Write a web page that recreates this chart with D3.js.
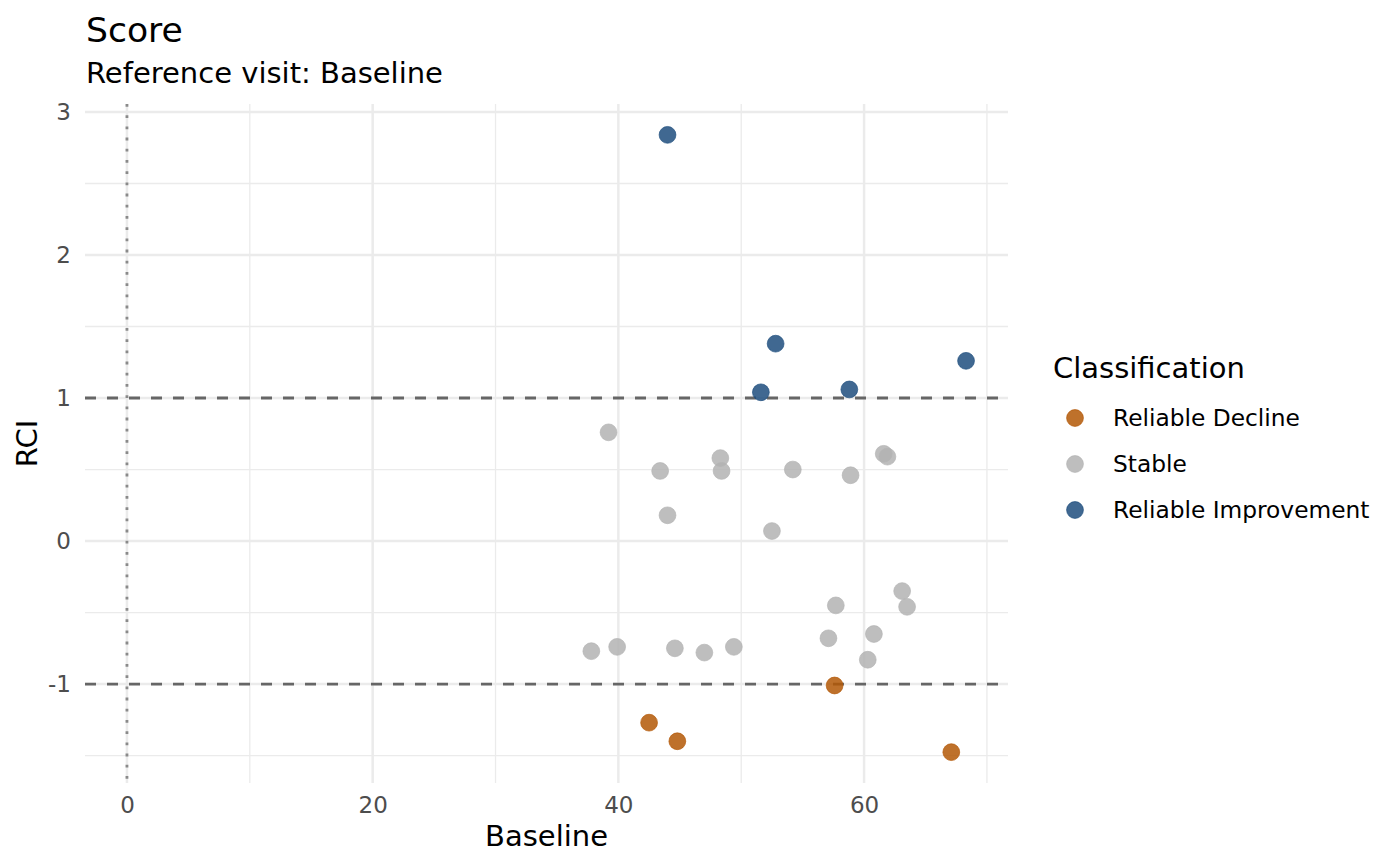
<!DOCTYPE html>
<html>
<head>
<meta charset="utf-8">
<script src="https://cdn.jsdelivr.net/npm/d3@7"></script>
<style>
  body { margin: 0; background: #fff; }
  svg text { font-family: "DejaVu Sans", sans-serif; }
</style>
</head>
<body>
<svg id="chart" width="1400" height="866"></svg>
<script>
// Data
const classes = ["Reliable Decline", "Stable", "Reliable Improvement"];
const classColors = ["#B35806", "#B3B3B3", "#1F4E7E"];

const baseline = [
  44.0, 52.8, 51.6, 58.8, 68.3,
  39.2, 43.4, 48.3, 48.4, 44.0, 52.5, 54.2, 58.9, 61.6, 61.9,
  37.8, 39.9, 44.6, 47.0, 49.4, 57.7, 57.1, 60.8, 60.3, 63.1, 63.5,
  42.5, 44.8, 57.6, 67.1
];
const rci = [
  2.84, 1.38, 1.04, 1.06, 1.26,
  0.76, 0.49, 0.58, 0.49, 0.18, 0.07, 0.50, 0.46, 0.61, 0.59,
  -0.77, -0.74, -0.75, -0.78, -0.74, -0.45, -0.68, -0.65, -0.83, -0.35, -0.46,
  -1.27, -1.40, -1.01, -1.476
];
const classification = [
  2, 2, 2, 2, 2,
  1, 1, 1, 1, 1, 1, 1, 1, 1, 1,
  1, 1, 1, 1, 1, 1, 1, 1, 1, 1, 1,
  0, 0, 0, 0
];

const xTicks = [0, 20, 40, 60];
const xMinor = [10, 30, 50, 70];
const yTicks = [-1, 0, 1, 2, 3];
const yMinor = [-1.5, -0.5, 0.5, 1.5, 2.5];
const hRefs = [-1, 1];
const vRef = 0;

const points = baseline.map((b, i) => ({x: b, y: rci[i], c: classification[i]}));

const svg = d3.select("#chart");
const panel = {left: 85, right: 1008, top: 104, bottom: 783};

// ggplot-like 5% expansion, reference lines train the scales too
function expand(vals) {
  let e = d3.extent(vals);
  let pad = (e[1] - e[0]) * 0.05;
  return [e[0] - pad, e[1] + pad];
}

let x = d3.scaleLinear()
  .domain(expand(baseline.concat([vRef])))
  .range([panel.left, panel.right]);
let y = d3.scaleLinear()
  .domain(expand(rci.concat(hRefs)))
  .range([panel.bottom, panel.top]);

let grid = svg.append("g");
grid.selectAll(".xminor").data(xMinor).enter().append("line")
  .attr("x1", d => x(d)).attr("x2", d => x(d))
  .attr("y1", panel.top).attr("y2", panel.bottom)
  .attr("stroke", "#EBEBEB").attr("stroke-width", 1.3);
grid.selectAll(".yminor").data(yMinor).enter().append("line")
  .attr("x1", panel.left).attr("x2", panel.right)
  .attr("y1", d => y(d)).attr("y2", d => y(d))
  .attr("stroke", "#EBEBEB").attr("stroke-width", 1.3);
grid.selectAll(".xmajor").data(xTicks).enter().append("line")
  .attr("x1", d => x(d)).attr("x2", d => x(d))
  .attr("y1", panel.top).attr("y2", panel.bottom)
  .attr("stroke", "#EBEBEB").attr("stroke-width", 2.5);
grid.selectAll(".ymajor").data(yTicks).enter().append("line")
  .attr("x1", panel.left).attr("x2", panel.right)
  .attr("y1", d => y(d)).attr("y2", d => y(d))
  .attr("stroke", "#EBEBEB").attr("stroke-width", 2.5);

// reference lines
svg.append("line")
  .attr("x1", x(vRef)).attr("x2", x(vRef))
  .attr("y1", panel.top).attr("y2", panel.bottom)
  .attr("stroke", "#8A8A8A").attr("stroke-width", 2.8)
  .attr("stroke-dasharray", "2.8,8.4");
svg.selectAll(".href").data(hRefs).enter().append("line")
  .attr("x1", panel.left).attr("x2", panel.right)
  .attr("y1", d => y(d)).attr("y2", d => y(d))
  .attr("stroke", "#666666").attr("stroke-width", 2.8)
  .attr("stroke-dasharray", "11,11");

// points
svg.append("g").selectAll("circle").data(points).enter().append("circle")
  .attr("cx", d => x(d.x))
  .attr("cy", d => y(d.y))
  .attr("r", 8.4)
  .attr("fill", d => classColors[d.c])
  .attr("stroke", d => classColors[d.c])
  .attr("stroke-width", 0.8)
  .attr("fill-opacity", 0.85)
  .attr("stroke-opacity", 0.85);

// axes
let xAxis = svg.append("g")
  .attr("transform", "translate(0," + panel.bottom + ")")
  .call(d3.axisBottom(x).tickValues(xTicks).tickSize(0).tickPadding(14).tickFormat(d => String(d)));
let yAxis = svg.append("g")
  .attr("transform", "translate(" + panel.left + ",0)")
  .call(d3.axisLeft(y).tickValues(yTicks).tickSize(0).tickPadding(14).tickFormat(d => String(d)));
[xAxis, yAxis].forEach(a => {
  a.select(".domain").remove();
  a.selectAll("text")
    .attr("font-family", "DejaVu Sans")
    .attr("font-size", 23)
    .attr("fill", "#4D4D4D");
});

// titles
svg.append("text").attr("x", 86).attr("y", 42)
  .attr("font-size", 34.6).attr("fill", "#000").text("Score");
svg.append("text").attr("x", 86).attr("y", 83)
  .attr("font-size", 29).attr("fill", "#000").text("Reference visit: Baseline");
svg.append("text")
  .attr("x", (panel.left + panel.right) / 2).attr("y", 846)
  .attr("text-anchor", "middle")
  .attr("font-size", 29).attr("fill", "#000").text("Baseline");
svg.append("text")
  .attr("transform", "translate(37," + (panel.top + panel.bottom) / 2 + ") rotate(-90)")
  .attr("text-anchor", "middle")
  .attr("font-size", 29).attr("fill", "#000").text("RCI");

// legend
let legend = svg.append("g");
legend.append("text").attr("x", 1053).attr("y", 378)
  .attr("font-size", 29).attr("fill", "#000").text("Classification");
let items = legend.selectAll(".item").data(classes).enter().append("g")
  .attr("transform", (d, i) => "translate(1075," + (418 + i * 46) + ")");
items.append("circle")
  .attr("r", 8.4)
  .attr("fill", (d, i) => classColors[i])
  .attr("stroke", (d, i) => classColors[i])
  .attr("stroke-width", 0.8)
  .attr("fill-opacity", 0.85)
  .attr("stroke-opacity", 0.85);
items.append("text")
  .attr("x", 38).attr("dy", "0.35em")
  .attr("font-size", 23.3).attr("fill", "#000")
  .text(d => d);
</script>
</body>
</html>
